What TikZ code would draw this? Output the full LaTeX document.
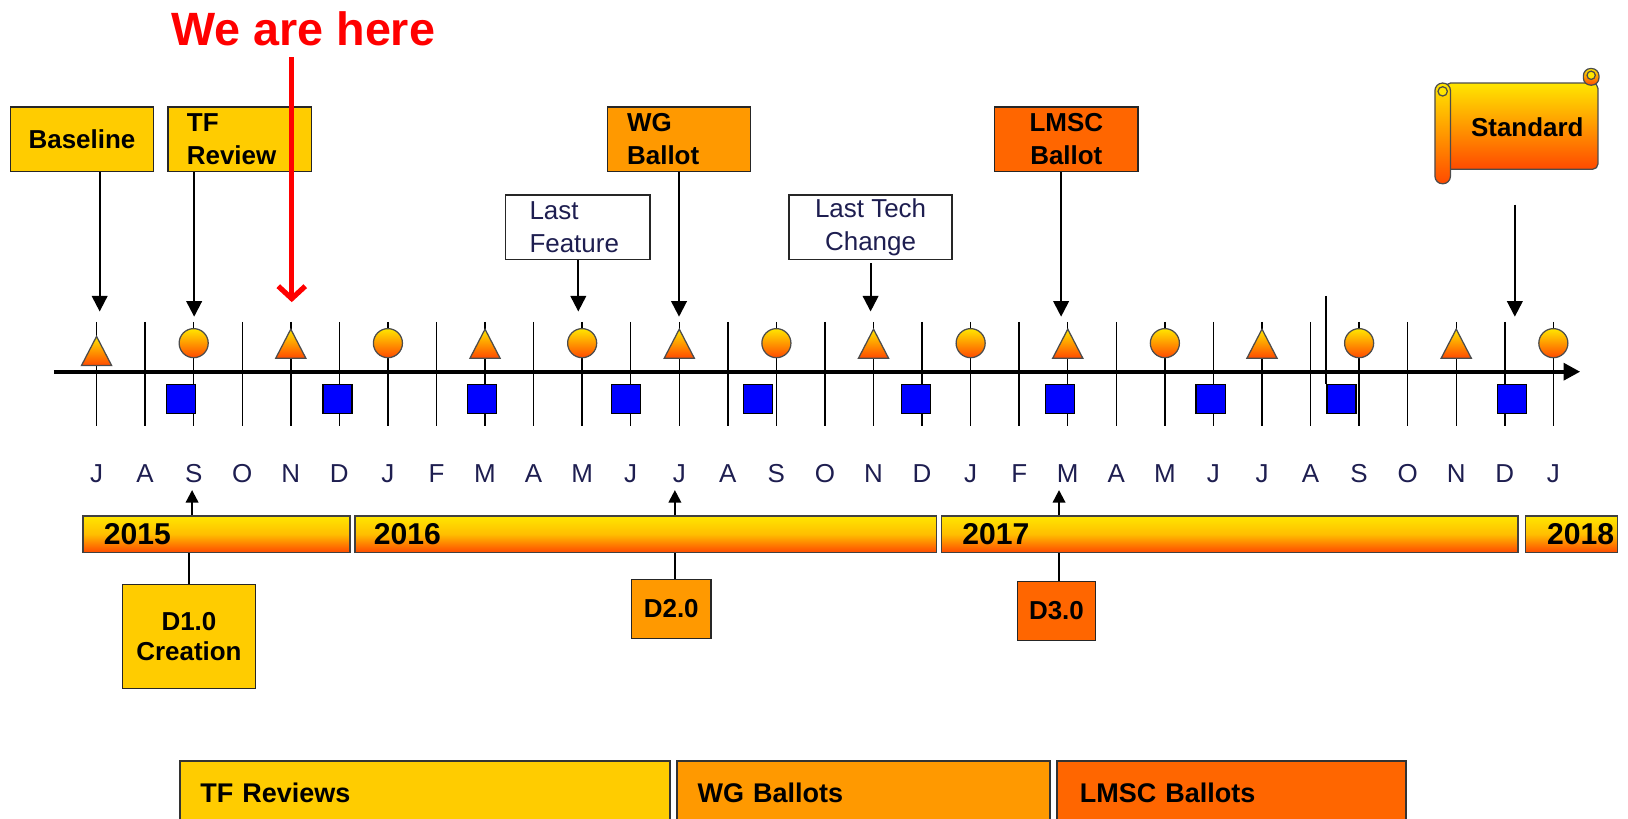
\documentclass[tikz,border=0pt]{standalone}
\usepackage{fontspec}
\setmainfont{Liberation Sans}
\usetikzlibrary{arrows.meta}
\definecolor{cgold}{HTML}{FFCC00}
\definecolor{corange}{HTML}{FF9900}
\definecolor{cdorange}{HTML}{FF6600}
\definecolor{cblue}{HTML}{0000FF}
\definecolor{cnavy}{HTML}{1E1E50}
\definecolor{gtop}{HTML}{FFE600}
\definecolor{gmid}{HTML}{FFBE00}
\definecolor{gbot}{HTML}{FF4A00}
\definecolor{cred}{HTML}{FF0000}
\begin{document}
\begin{tikzpicture}[x=0.5pt,y=-0.5pt,
  every node/.style={inner sep=0pt},
  bx/.style={draw=black!85, line width=0.7pt, font=\fontsize{12.5pt}{16pt}\selectfont\bfseries},
  wbx/.style={draw=black!85, line width=0.7pt, fill=white, text=cnavy, font=\fontsize{12.5pt}{16pt}\selectfont},
  yearbar/.style={draw=black!75, line width=0.7pt, top color=gtop, bottom color=gbot, middle color=gmid, minimum height=17.5pt, align=left, font=\fontsize{14.5pt}{17pt}\selectfont\bfseries},
  phase/.style={draw=black!80, line width=0.9pt, minimum height=31pt, align=left, font=\fontsize{13pt}{16pt}\selectfont\bfseries},
  callout/.style={line width=1pt, -{Triangle[length=7.5pt,width=7.5pt]}},
  uparr/.style={line width=1pt, -{Triangle[length=6pt,width=6pt]}},
  conn/.style={line width=1pt},
  tickline/.style={line width=0.7pt},
  axisline/.style={line width=2pt, -{Triangle[length=8pt,width=8pt]}},
  month/.style={text=cnavy, font=\fontsize{12.5pt}{15pt}\selectfont},
  grad/.style={draw=black!70, line width=0.6pt, top color=gtop, bottom color=gbot},
  sq/.style={draw=black, line width=0.6pt, fill=cblue}
]
\useasboundingbox (0,0) rectangle (1568,788);

% title
\node[text=cred, font=\fontsize{22.5pt}{26pt}\selectfont\bfseries] (here) at (292,28) {We are here};

% top boxes
\node[bx, fill=cgold, minimum width=69pt, minimum height=31pt] (base) at (79,134) {Baseline};
\node[bx, fill=cgold, minimum height=31pt, inner xsep=9pt, text width=51pt, align=left] (tfr) at (231,134) {TF\\Review};
\node[bx, fill=corange, minimum height=31pt, inner xsep=9.5pt, text width=50pt, align=left] (wgb) at (654,134) {WG\\Ballot};
\node[bx, fill=cdorange, minimum width=69pt, minimum height=31pt, align=center] (lmb) at (1027,134) {LMSC\\Ballot};
\node[wbx, minimum height=31pt, inner xsep=11.5pt, text width=46.5pt, align=left] (lfe) at (556.5,219) {Last\\Feature};
\node[wbx, minimum width=78.5pt, minimum height=31pt, align=center] (ltc) at (838.5,219) {Last Tech\\Change};

% scroll
\path[grad, rounded corners=2.5pt] (1392,80) -- (1539,80) -- (1539,163) -- (1392,163) -- cycle;
\path[grad, rounded corners=3.5pt] (1525,66) rectangle (1540,82);
\draw[black!70, line width=0.6pt, fill=gtop] (1532.5,72.5) circle [radius=4];
\path[grad, rounded corners=3.7pt] (1382,80) rectangle (1397,177);
\draw[black!70, line width=0.6pt, fill=gtop] (1389.5,88) circle [radius=4.5];
\node[font=\fontsize{12.5pt}{15pt}\selectfont\bfseries] (std) at (1471,123) {Standard};

% ticks
\foreach \i in {0,...,30} {
  \draw[tickline] ({93+\i*46.77},310) -- ({93+\i*46.77},410);
}
\draw[tickline] (1277,285) -- (1277,370);

% axis
\coordinate (ax0) at (52,358);
\coordinate (ax1) at (1522,358);
\draw[axisline] (ax0) -- (ax1);

% triangles
\path[grad] (78.5,352) -- (93,324) -- (107.5,352) -- cycle;
\foreach \i in {4,8,...,28} {
  \pgfmathsetmacro{\xx}{93+\i*46.77}
  \path[grad] (\xx-14.5,345) -- (\xx,317) -- (\xx+14.5,345) -- cycle;
}
% circles
\foreach \i in {2,6,...,30} {
  \path[grad] ({93+\i*46.77},330.5) circle [radius=14];
}
% squares
\foreach \x in {174,325,464,603,730,882,1021,1166,1292,1456} {
  \path[sq] (\x-14,370) rectangle (\x+14,398);
}

% month labels
\foreach \m [count=\i from 0] in {J,A,S,O,N,D,J,F,M,A,M,J,J,A,S,O,N,D,J,F,M,A,M,J,J,A,S,O,N,D,J} {
  \node[month] (m\i) at ({93+\i*46.77},456) {\m};
}

% year bars
\node[yearbar, inner xsep=10pt, text width=108.5pt] (y15) at (208.5,514.5) {2015};
\node[yearbar, inner xsep=9pt, text width=262pt] (y16) at (622,514.5) {2016};
\node[yearbar, inner xsep=10pt, text width=257.5pt] (y17) at (1184.5,514.5) {2017};
\node[yearbar, inner xsep=10.5pt, text width=23.5pt] (y18) at (1513.5,514.5) {2018};

% up arrows to months
\coordinate (uS) at (185,472);
\coordinate (uJ) at (650,472);
\coordinate (uM) at (1020,472);
\draw[uparr] (uS |- y15.north) -- (uS);
\draw[uparr] (uJ |- y16.north) -- (uJ);
\draw[uparr] (uM |- y17.north) -- (uM);

% draft boxes
\node[bx, fill=cgold, minimum width=64pt, minimum height=50pt, align=center, font=\fontsize{12.5pt}{14.5pt}\selectfont\bfseries] (d1) at (182,613) {D1.0\\Creation};
\node[bx, fill=corange, minimum width=38.5pt, minimum height=28.5pt] (d2) at (646.5,586.5) {D2.0};
\node[bx, fill=cdorange, minimum width=37.5pt, minimum height=28.5pt] (d3) at (1017.5,588.5) {D3.0};
\draw[conn] (d1.north) -- (d1.north |- y15.south);
\draw[conn] ([xshift=1.75pt]d2.north) -- ([xshift=1.75pt]d2.north |- y16.south);
\draw[conn] ([xshift=1.25pt]d3.north) -- ([xshift=1.25pt]d3.north |- y17.south);

% phases
\node[phase, fill=cgold, inner xsep=10pt, text width=216pt] (ph1) at (409,764) {TF Reviews};
\node[phase, fill=corange, inner xsep=10pt, text width=159.5pt] (ph2) at (831.5,764) {WG Ballots};
\node[phase, fill=cdorange, inner xsep=11pt, text width=146pt] (ph3) at (1186,764) {LMSC Ballots};

% callout arrows
\coordinate (tB) at (96,300);
\coordinate (tT) at (187,305);
\coordinate (tF) at (557,300);
\coordinate (tW) at (654,305);
\coordinate (tC) at (838.5,300);
\coordinate (tL) at (1022,305);
\coordinate (sS) at (1459,197);
\coordinate (tS) at (1459,305);
\draw[callout] (tB |- base.south) -- (tB);
\draw[callout] (tT |- tfr.south) -- (tT);
\draw[callout] (tF |- lfe.south) -- (tF);
\draw[callout] (tW |- wgb.south) -- (tW);
\draw[callout] ([yshift=-1.5pt]tC |- ltc.south) -- (tC);
\draw[callout] (tL |- lmb.south) -- (tL);
\draw[callout] (sS) -- (tS);

% we are here arrow
\coordinate (hA) at (281,55);
\coordinate (hB) at (281,291);
\draw[cred, line width=2.5pt, -{Straight Barb[length=6pt,width=13pt]}] (hA) -- (hB);
\end{tikzpicture}
\end{document}
